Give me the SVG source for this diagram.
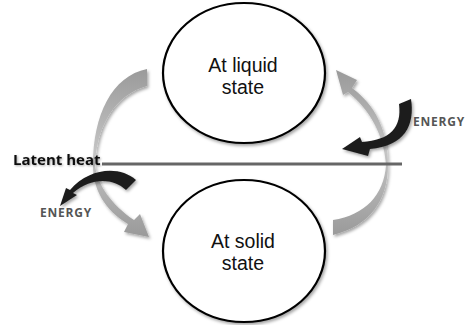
<svg xmlns="http://www.w3.org/2000/svg" width="470" height="325" viewBox="0 0 470 325">
<defs>
<filter id="sh" x="-20%" y="-20%" width="140%" height="140%"><feDropShadow dx="1.5" dy="2" stdDeviation="1.5" flood-color="#000" flood-opacity="0.35"/></filter>
<filter id="tsh" x="-10%" y="-30%" width="120%" height="160%"><feDropShadow dx="1" dy="1" stdDeviation="0.8" flood-color="#000" flood-opacity="0.35"/></filter>
<linearGradient id="gl" x1="0" y1="0" x2="0" y2="1"><stop offset="0" stop-color="#9a9a9a"/><stop offset="0.5" stop-color="#c4c4c4"/><stop offset="1" stop-color="#9a9a9a"/></linearGradient>
</defs>
<style>
.node ellipse{fill:#fff;stroke:#000;stroke-width:2.2}
.lbl{font-family:"Liberation Sans",Arial,sans-serif;font-size:19.5px;fill:#111;text-anchor:middle}
.en{font-family:"Open Sans","Liberation Sans",sans-serif;font-size:12px;font-weight:bold;fill:#555;letter-spacing:0.8px}
.garrow{fill:url(#gl);filter:url(#sh)}
.barrow{fill:#1e1e1e;filter:url(#sh)}
</style>
<rect width="470" height="325" fill="#fff"/>
<g id="connectors">
<path class="garrow" d="M147,69 C112,76 93,115 93,165 C93,190 105,210 128,224 L124,232 L149,237 L140,214 L134,220 C112,205 97,185 95,165 C97,125 115,95 147,86 Z"/>
<path class="garrow" d="M333,235 C370,226 388,200 388,165 C388,130 375,105 352,88 L357,80 L336,70 L343,95 L348,92 C370,110 384,135 386,165 C384,195 365,215 333,220 Z"/>
<path class="barrow" d="M136,180 C120,166 90,167 70,190 L66,188 L60,206 L77,195 L73,193 C90,178 112,177 126,190 Z"/>
<path class="barrow" d="M399,104 L411,99 C415,125 405,146 370,149 L368,156 L342,149 L360,137 L362,142 C390,140 402,128 399,104 Z"/>
<line x1="102" y1="164" x2="402" y2="164" stroke="#666" stroke-width="3"/>
</g>
<g id="liquid" class="node">
<ellipse cx="244" cy="73" rx="81" ry="70" filter="url(#sh)"/>
<text class="lbl" x="243" y="72">At liquid</text>
<text class="lbl" x="243" y="94">state</text>
</g>
<g id="solid" class="node">
<ellipse cx="244" cy="251" rx="81" ry="71" filter="url(#sh)"/>
<text class="lbl" x="243" y="248">At solid</text>
<text class="lbl" x="243" y="270">state</text>
</g>
<text x="13" y="165" font-family="'Open Sans','Liberation Sans',sans-serif" font-size="15" font-weight="bold" fill="#111" filter="url(#tsh)">Latent heat</text>
<text class="en" x="40" y="217">ENERGY</text>
<text class="en" x="413" y="126">ENERGY</text>
</svg>
